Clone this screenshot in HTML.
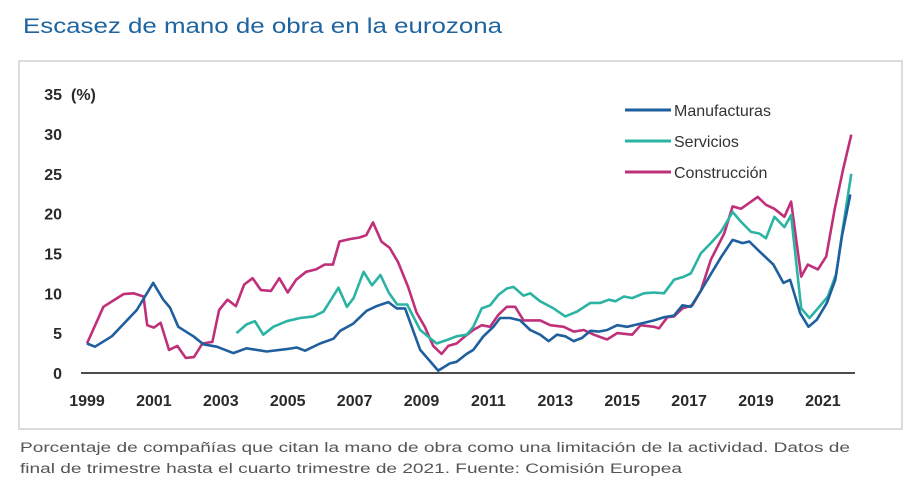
<!DOCTYPE html>
<html><head><meta charset="utf-8"><style>
html,body{margin:0;padding:0;background:#fff;}
svg{display:block;font-family:"Liberation Sans",sans-serif;}
</style></head><body>
<svg width="920" height="502" viewBox="0 0 920 502">
<text x="23" y="33" font-size="21" fill="#1f64a0" textLength="479" lengthAdjust="spacingAndGlyphs">Escasez de mano de obra en la eurozona</text>
<rect x="19" y="61" width="883" height="368" fill="#fff" stroke="#dcdcdc" stroke-width="2"/>
<g id="yaxis"></g>
<g id="xaxis"></g>
<g id="series"></g>
<g>
<g><line x1="625" y1="110" x2="671" y2="110" stroke="#1f5f9e" stroke-width="3"/><text x="674" y="116" font-size="16" fill="#333">Manufacturas</text></g>
<g><line x1="625" y1="141" x2="671" y2="141" stroke="#2bb3a3" stroke-width="3"/><text x="674" y="147" font-size="16" fill="#333">Servicios</text></g>
<g><line x1="625" y1="172" x2="671" y2="172" stroke="#c0307a" stroke-width="3"/><text x="674" y="178" font-size="16" fill="#333">Construcción</text></g>
</g>
<text x="20" y="452" font-size="13.5" fill="#555" textLength="830" lengthAdjust="spacingAndGlyphs">Porcentaje de compañías que citan la mano de obra como una limitación de la actividad. Datos de</text>
<text x="20" y="473" font-size="13.5" fill="#555" textLength="662" lengthAdjust="spacingAndGlyphs">final de trimestre hasta el cuarto trimestre de 2021. Fuente: Comisión Europea</text>
</svg>
<script>
const yTicks = [0,5,10,15,20,25,30,35];
const xTicks = [1999,2001,2003,2005,2007,2009,2011,2013,2015,2017,2019,2021];
const manufT = [1999,1999.24,1999.74,2000.49,2000.98,2001.28,2001.48,2001.73,2002.18,2002.48,2002.88,2003.37,2003.77,2004.37,2004.97,2005.27,2005.52,2005.97,2006.37,2006.57,2006.96,2007.36,2007.66,2008.01,2008.26,2008.51,2008.96,2009.5,2009.85,2010.05,2010.35,2010.55,2010.85,2011.15,2011.35,2011.65,2011.95,2012.25,2012.55,2012.8,2013.05,2013.3,2013.55,2013.8,2014.05,2014.3,2014.55,2014.85,2015.15,2015.55,2015.95,2016.25,2016.55,2016.8,2017.05,2017.35,2017.65,2017.95,2018.3,2018.6,2018.8,2019.12,2019.52,2019.82,2020.02,2020.32,2020.57,2020.82,2021.12,2021.37,2021.57,2021.82];
const manufV = [3.7,3.3,4.6,7.9,11.3,9.2,8.2,5.8,4.6,3.6,3.3,2.5,3.1,2.7,3.0,3.2,2.8,3.7,4.3,5.3,6.2,7.8,8.4,8.9,8.1,8.1,2.9,0.3,1.2,1.4,2.4,2.9,4.6,5.8,6.9,6.9,6.6,5.4,4.8,4.0,4.8,4.6,4.0,4.4,5.3,5.2,5.4,6.0,5.8,6.2,6.6,7.0,7.2,8.5,8.3,10.3,12.4,14.5,16.7,16.3,16.5,15.2,13.6,11.3,11.7,7.5,5.8,6.7,8.8,11.7,17.2,22.4];
const servT = [2003.47,2003.77,2004.02,2004.27,2004.57,2004.97,2005.37,2005.77,2006.07,2006.52,2006.77,2006.97,2007.27,2007.52,2007.77,2008.02,2008.27,2008.57,2008.96,2009.45,2009.8,2010.05,2010.35,2010.55,2010.8,2011.05,2011.3,2011.55,2011.75,2012.05,2012.25,2012.55,2012.95,2013.3,2013.65,2014.05,2014.35,2014.6,2014.8,2015.05,2015.3,2015.65,2015.95,2016.25,2016.55,2016.85,2017.05,2017.35,2017.65,2017.95,2018.3,2018.55,2018.85,2019.1,2019.3,2019.55,2019.85,2020.05,2020.35,2020.6,2020.85,2021.15,2021.4,2021.6,2021.85];
const servV = [5.0,6.1,6.5,4.8,5.8,6.5,6.9,7.1,7.7,10.7,8.3,9.4,12.7,11.0,12.3,10.1,8.6,8.6,5.4,3.7,4.2,4.6,4.8,5.8,8.1,8.5,9.8,10.6,10.8,9.7,10.0,9.0,8.1,7.1,7.7,8.8,8.8,9.2,9.0,9.6,9.4,10.0,10.1,10.0,11.7,12.1,12.5,15.0,16.3,17.7,20.2,19.0,17.7,17.5,16.9,19.6,18.3,19.8,8.1,6.9,8.1,9.6,12.5,18.3,25.0];
const consT = [1999,1999.49,1999.79,2000.09,2000.39,2000.69,2000.8,2001.0,2001.2,2001.45,2001.7,2001.95,2002.2,2002.45,2002.75,2002.95,2003.2,2003.45,2003.7,2003.95,2004.2,2004.5,2004.75,2005.0,2005.25,2005.55,2005.85,2006.1,2006.35,2006.55,2006.85,2007.15,2007.35,2007.55,2007.8,2008.05,2008.3,2008.6,2008.85,2009.1,2009.35,2009.6,2009.8,2010.05,2010.3,2010.55,2010.8,2011.05,2011.3,2011.55,2011.8,2012.05,2012.3,2012.55,2012.85,2013.25,2013.55,2013.85,2014.15,2014.55,2014.85,2015.3,2015.55,2015.95,2016.1,2016.35,2016.55,2016.8,2017.1,2017.35,2017.65,2018.05,2018.3,2018.55,2019.05,2019.3,2019.55,2019.85,2020.05,2020.35,2020.55,2020.85,2021.1,2021.35,2021.6,2021.85];
const consV = [3.7,8.3,9.1,9.9,10.0,9.6,6.0,5.7,6.3,2.9,3.4,1.9,2.0,3.7,3.9,7.9,9.2,8.4,11.1,11.9,10.4,10.3,11.9,10.1,11.7,12.7,13.0,13.6,13.6,16.5,16.8,17.0,17.3,18.9,16.5,15.7,13.9,10.8,7.6,5.8,3.4,2.4,3.4,3.7,4.6,5.4,6.0,5.8,7.3,8.3,8.3,6.6,6.6,6.6,6.0,5.8,5.2,5.4,4.8,4.2,5.0,4.8,6.0,5.8,5.6,7.0,7.1,8.1,8.5,10.3,14.2,17.5,20.9,20.6,22.1,21.1,20.6,19.6,21.5,12.1,13.6,13.0,14.6,20.5,25.5,29.9];

const NS='http://www.w3.org/2000/svg';
function X(t){return 87+(t-1999)*33.45;}
function Y(v){return 373-v*7.97;}
const ya=document.getElementById('yaxis'), xa=document.getElementById('xaxis'), sg=document.getElementById('series');
yTicks.forEach(v=>{
  const t=document.createElementNS(NS,'text');
  
  
  t.setAttribute('x',62);t.setAttribute('y',Y(v)+6);t.setAttribute('text-anchor','end');
  t.setAttribute('font-size','16');t.setAttribute('font-weight','bold');t.setAttribute('fill','#2a2a2a');
  t.textContent=v;ya.appendChild(t);
});
const pct=document.createElementNS(NS,'text');


pct.setAttribute('x',71);pct.setAttribute('y',Y(35)+6);pct.setAttribute('font-size','16');pct.setAttribute('font-weight','bold');pct.setAttribute('fill','#2a2a2a');
pct.textContent='(%)';ya.appendChild(pct);
const base=document.createElementNS(NS,'line');


base.setAttribute('x1',81);base.setAttribute('x2',855);base.setAttribute('y1',Y(0));base.setAttribute('y2',Y(0));
base.setAttribute('stroke','#111');base.setAttribute('stroke-width','1.5');xa.appendChild(base);
xTicks.forEach(yr=>{
  const t=document.createElementNS(NS,'text');
  
  
  t.setAttribute('x',X(yr));t.setAttribute('y',406);t.setAttribute('text-anchor','middle');
  t.setAttribute('font-size','16');t.setAttribute('font-weight','bold');t.setAttribute('fill','#2a2a2a');
  t.textContent=yr;xa.appendChild(t);
});
function line(ts,vs,color,name){
  const p=document.createElementNS(NS,'polyline');
  
  
  p.setAttribute('points',ts.map((t,i)=>X(t).toFixed(1)+','+Y(vs[i]).toFixed(1)).join(' '));
  p.setAttribute('fill','none');p.setAttribute('stroke',color);p.setAttribute('stroke-width','2.6');p.setAttribute('stroke-linejoin','round');
  sg.appendChild(p);
}
line(consT,consV,'#c0307a','construccion-line');
line(servT,servV,'#2bb3a3','servicios-line');
line(manufT,manufV,'#1f5f9e','manufacturas-line');
</script>
</body></html>
